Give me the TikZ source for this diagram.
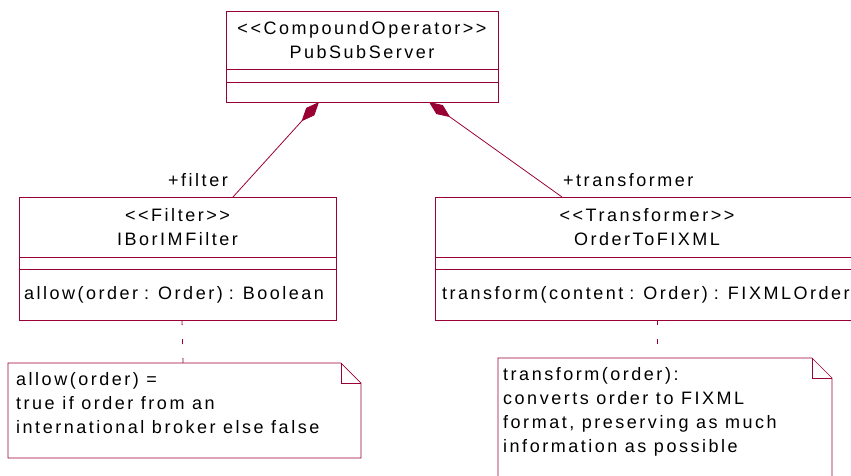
\documentclass[tikz,border=0pt]{standalone}
\usepackage{fontspec}
\setmainfont{Liberation Sans}[LetterSpace=14, Ligatures=TeXOff]
\usepackage{tikz}
\usetikzlibrary{arrows.meta, positioning}
\definecolor{umlred}{RGB}{153,0,51}

\begin{document}
\begin{tikzpicture}[
    x=1pt, y=-1pt,
    every node/.style={font=\fontsize{18pt}{24pt}\selectfont},
    compart/.style={draw=umlred, line width=0.9pt, outer sep=0pt, inner sep=0pt},
    namepart/.style={compart, align=center, minimum height=60pt},
    opspart/.style={compart, align=left, inner xsep=6pt, minimum height=51pt},
    comp/.style={draw=umlred, line width=0.8pt, {Diamond[length=26pt, width=11pt, fill=umlred]}-},
    notelink/.style={draw=umlred, line width=0.8pt, dash pattern=on 5pt off 14pt},
    notebox/.style={outer sep=0pt, inner sep=0pt, anchor=north},
    noteline/.style={draw=umlred, line width=0.7pt},
    notetext/.style={inner sep=0pt, align=left},
    rolelabel/.style={inner sep=0pt}
]
    \useasboundingbox (0,0) rectangle (851,475);

    % compound operator
    \node[namepart, minimum width=272pt, minimum height=58pt] (serverName) at (362,40)
        {<<CompoundOperator>>\\PubSubServer};
    \node[compart, minimum width=272pt, minimum height=13pt, below=0pt of serverName] (serverAttr) {};
    \node[compart, minimum width=272pt, minimum height=20pt, below=0pt of serverAttr] (serverOps) {};

    % filter
    \node[namepart, minimum width=317pt, below=95pt of serverOps, xshift=-184.5pt] (filterName)
        {<<Filter>>\\IBorIMFilter};
    \node[compart, minimum width=317pt, minimum height=12pt, below=0pt of filterName] (filterAttr) {};
    \node[opspart, text width=307pt, below=0pt of filterAttr, inner xsep=5pt] (filterOps)
        {allow(order : Order) : Boolean};

    % transformer
    \node[namepart, minimum width=424pt, below=95pt of serverOps, xshift=285pt] (transName)
        {<<Transformer>>\\OrderToFIXML};
    \node[compart, minimum width=424pt, minimum height=12pt, below=0pt of transName] (transAttr) {};
    \node[opspart, text width=410pt, below=0pt of transAttr, inner xsep=7pt] (transOps)
        {\mbox{transform(content : Order) : FIXMLOrder}};

    % compositions
    \draw[comp] ([xshift=-43pt]serverOps.south) -- ([xshift=55.5pt]filterName.north) coordinate (filterEnd);
    \draw[comp] ([xshift=67pt]serverOps.south) -- ([xshift=-85pt]transName.north) coordinate (transEnd);
    \node[rolelabel, above left=10pt and 5pt of filterEnd] (filterRole) {+filter};
    \node[rolelabel, above right=10pt and 1pt of transEnd] (transRole) {+transformer};

    % notes
    \node[notebox, minimum width=353pt, minimum height=95pt, below=43pt of filterOps, xshift=7pt] (allowNote) {};
    \draw[noteline] (allowNote.north west) -- ([xshift=-20pt]allowNote.north east)
        -- ([yshift=-20pt]allowNote.north east) -- (allowNote.south east)
        -- (allowNote.south west) -- cycle;
    \draw[noteline] ([xshift=-20pt]allowNote.north east) |- ([yshift=-20pt]allowNote.north east);
    \node[notetext, below right=9pt and 8pt of allowNote.north west] (allowText)
        {allow(order) =\\true if order from an\\international broker else false};

    \node[notebox, minimum width=334pt, minimum height=130pt, below=38pt of transOps, xshift=18pt] (transNote) {};
    \draw[noteline] (transNote.north west) -- ([xshift=-20pt]transNote.north east)
        -- ([yshift=-20pt]transNote.north east) -- (transNote.south east)
        -- (transNote.south west) -- cycle;
    \draw[noteline] ([xshift=-20pt]transNote.north east) |- ([yshift=-20pt]transNote.north east);
    \node[notetext, below right=9pt and 5pt of transNote.north west] (transText)
        {transform(order):\\converts order to FIXML\\format, preserving as much\\information as possible};

    % note links
    \draw[notelink] ([xshift=4.5pt]filterOps.south) -- ([xshift=-1.5pt]allowNote.north);
    \draw[notelink] ([xshift=10pt]transOps.south) -- ([xshift=-8pt]transNote.north);
\end{tikzpicture}
\end{document}
